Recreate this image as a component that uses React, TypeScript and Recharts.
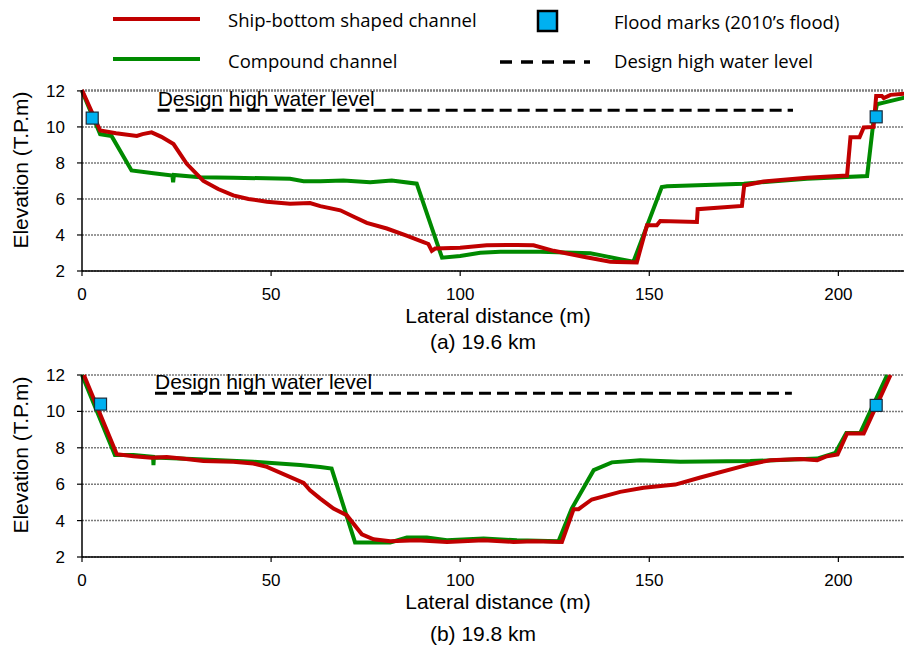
import React from 'react';
import { ComposedChart, Line, Scatter, XAxis, YAxis, CartesianGrid } from 'recharts';

type P = { x: number; y: number };
const pts = (a: number[][]): P[] => a.map(([x, y]) => ({ x, y }));

const xTicks = [0, 50, 100, 150, 200];
const yTicks = [2, 4, 6, 8, 10, 12];

// (a) 19.6 km
const shipBottomA = pts([
  [0, 12.05], [4.8, 9.8], [9, 9.65], [14.5, 9.5], [16, 9.6], [18.4, 9.7], [21, 9.45], [24.2, 9.05],
  [27.7, 7.95], [32.1, 7.0], [36, 6.55], [40, 6.2], [44, 6.0], [48.9, 5.85], [55, 5.74], [60.3, 5.77],
  [63, 5.6], [68.3, 5.37], [72, 5.0], [75.3, 4.67], [80.6, 4.36], [86, 3.95], [90.3, 3.6], [91.6, 3.5],
  [92.5, 3.12], [93.4, 3.25], [100, 3.29], [107, 3.43], [112.3, 3.45], [115, 3.45], [119.4, 3.43],
  [124.7, 3.12], [132.6, 2.79], [139.7, 2.51], [141.5, 2.5], [146.7, 2.48], [149.4, 4.54], [152, 4.54],
  [152.9, 4.78], [162.6, 4.72], [162.8, 5.43], [174.5, 5.61], [175.1, 6.75], [180.2, 6.97], [191.7, 7.18],
  [202.3, 7.3], [203.2, 9.42], [205.6, 9.42], [206.7, 9.97], [209.3, 10.0], [210, 11.72], [211.5, 11.72],
  [212, 11.6], [213.8, 11.78], [217.5, 11.85], [220, 11.87],
]);
const compoundA = pts([
  [0, 12], [4.8, 9.6], [7.8, 9.5], [13.1, 7.58], [18.9, 7.43], [23.9, 7.3], [24.1, 6.93], [24.3, 7.33],
  [31.2, 7.21], [40, 7.18], [55, 7.12], [58.6, 6.99], [63, 6.99], [69.1, 7.02], [76.2, 6.93], [81.9, 7.03],
  [88.5, 6.85], [95.2, 2.74], [100, 2.83], [105.3, 3.01], [110.6, 3.07], [121.2, 3.07], [134.4, 2.98],
  [137, 2.88], [142.3, 2.65], [145.8, 2.51], [153.3, 6.66], [154.7, 6.7], [175, 6.85], [191.7, 7.12],
  [207.6, 7.27], [209.3, 10.34], [210.2, 11.26], [212, 11.35], [217.5, 11.63], [220, 11.68],
]);
const floodA = pts([[2.7, 10.49], [210, 10.56]]);
const designA = pts([[20, 10.93], [188, 10.93]]);

// (b) 19.8 km
const shipBottomB = pts([
  [0.5, 12], [9.2, 7.65], [13.6, 7.54], [18.4, 7.45], [22.4, 7.5], [27, 7.4], [32.1, 7.27], [40, 7.23],
  [45.3, 7.14], [48.9, 6.95], [58.6, 6.07], [60.3, 5.67], [63, 5.21], [66.5, 4.66], [70, 4.3], [74, 3.25],
  [77.1, 2.97], [81.5, 2.86], [88.5, 2.92], [96.5, 2.83], [106.2, 2.92], [114.1, 2.83], [119.4, 2.86],
  [126.9, 2.83], [130, 4.63], [131.3, 4.63], [134.8, 5.16], [142.3, 5.58], [148.5, 5.8], [156.9, 5.98],
  [163.5, 6.37], [176.7, 7.1], [182, 7.32], [190, 7.38], [194.4, 7.32], [197, 7.54], [199.8, 7.63],
  [202.3, 8.79], [206.7, 8.79], [213.8, 12],
]);
const compoundB = pts([
  [0, 12], [8.7, 7.6], [13.6, 7.6], [18.8, 7.5], [18.9, 7.05], [19.0, 7.47], [32.1, 7.36], [45.3, 7.23],
  [57.7, 7.05], [63, 6.95], [66, 6.86], [72.2, 2.8], [81.5, 2.8], [85.9, 3.07], [91.2, 3.07], [96.5, 2.92],
  [106.2, 3.01], [115, 2.92], [126, 2.86], [129.5, 4.66], [135.3, 6.77], [140.1, 7.2], [147.6, 7.32],
  [158.2, 7.23], [176.7, 7.27], [194.4, 7.41], [199.2, 7.72], [202.1, 8.82], [205.8, 8.82], [212.9, 12],
]);
const floodB = pts([[4.9, 10.4], [210, 10.33]]);
const designB = pts([[19.3, 11.0], [187.7, 11.0]]);

const FONT = '"Liberation Sans", Arial, sans-serif';
const LEGEND_FONT = '"Open Sans", "Noto Sans", sans-serif';
const RED = '#C00000';
const GREEN = '#008A00';
const BLUE = '#00B0F0';

const FloodSquare = (props: any) => {
  const { cx, cy } = props;
  if (cx == null || cy == null) return <g />;
  return <rect x={cx - 6} y={cy - 6} width={12} height={12} fill={BLUE} stroke="#1a2a3a" strokeWidth={1.2} />;
};

const DesignText = (props: any) => {
  const { cx, cy } = props;
  if (cx == null || cy == null) return <g />;
  return (
    <text x={cx} y={cy - 4} fontSize={21} fontFamily={FONT} fill="#000">
      Design high water level
    </text>
  );
};

type PanelProps = {
  ship: P[];
  compound: P[];
  flood: P[];
  design: P[];
  caption: string;
  height: number;
  marginTop: number;
  axisH: number;
  captionDy: number;
};

function Panel({ ship, compound, flood, design, caption, height, marginTop, axisH, captionDy }: PanelProps) {
  const axisY = height - axisH;
  const xLabel = () => (
    <g>
      <text x={498} y={axisY + 52} textAnchor="middle" fontSize={21} fontFamily={FONT} fill="#000">
        Lateral distance (m)
      </text>
      <text x={483} y={axisY + captionDy} textAnchor="middle" fontSize={21} fontFamily={FONT} fill="#000">
        {caption}
      </text>
    </g>
  );
  const yLabel = () => {
    const cx = 28;
    const cy = marginTop + 80;
    return (
      <text x={cx} y={cy} transform={`rotate(-90, ${cx}, ${cy})`} textAnchor="middle" fontSize={21} fontFamily={FONT} fill="#000">
        Elevation (T.P.m)
      </text>
    );
  };
  const designLabel = design.slice(0, 1);
  return (
    <ComposedChart width={904} height={height} margin={{ top: marginTop, right: -10, bottom: 0, left: 0 }}>
      <CartesianGrid vertical={false} stroke="#7a7a7a" strokeDasharray="2 1" strokeWidth={1.5} />
      <XAxis
        type="number"
        dataKey="x"
        domain={[0, 220]}
        ticks={xTicks}
        height={axisH}
        tickSize={5}
        tickMargin={12}
        interval={0}
        tick={{ fontSize: 17, fill: '#000', fontFamily: FONT }}
        axisLine={{ stroke: '#000', strokeWidth: 1.5 }}
        tickLine={{ stroke: '#000', strokeWidth: 1.2 }}
        label={xLabel}
      />
      <YAxis
        type="number"
        dataKey="y"
        domain={[2, 12]}
        ticks={yTicks}
        width={82}
        tickSize={5}
        tickMargin={12}
        interval={0}
        tick={{ fontSize: 17, fill: '#000', fontFamily: FONT }}
        axisLine={{ stroke: '#000', strokeWidth: 1.5 }}
        tickLine={{ stroke: '#000', strokeWidth: 1.2 }}
        label={yLabel}
      />
      <Line data={compound} dataKey="y" type="linear" stroke={GREEN} strokeWidth={4} dot={false} isAnimationActive={false} />
      <Line data={ship} dataKey="y" type="linear" stroke={RED} strokeWidth={4} dot={false} isAnimationActive={false} />
      <Line data={design} dataKey="y" type="linear" stroke="#000" strokeWidth={3} strokeDasharray="12 6" dot={false} isAnimationActive={false} />
      <Scatter data={flood} dataKey="y" shape={FloodSquare} isAnimationActive={false} />
      <Scatter data={designLabel} dataKey="y" shape={DesignText} isAnimationActive={false} />
    </ComposedChart>
  );
}

function LegendBox() {
  return (
    <svg width={904} height={80} style={{ position: 'absolute', left: 0, top: 0 }}>
      <line x1={113} x2={200} y1={19} y2={19} stroke={RED} strokeWidth={4} />
      <text x={228} y={27} fontSize={18.5} fontFamily={LEGEND_FONT} fill="#000">Ship-bottom shaped channel</text>
      <line x1={113} x2={200} y1={59} y2={59} stroke={GREEN} strokeWidth={4} />
      <text x={228} y={68} fontSize={18.5} fontFamily={LEGEND_FONT} fill="#000">Compound channel</text>
      <rect x={538} y={11} width={19} height={20} fill={BLUE} stroke="#000" strokeWidth={2.5} />
      <text x={614} y={29} fontSize={18.5} fontFamily={LEGEND_FONT} fill="#000">Flood marks (2010’s flood)</text>
      <line x1={500} x2={590} y1={62} y2={62} stroke="#000" strokeWidth={3.5} strokeDasharray="12 9" />
      <text x={614} y={68} fontSize={18.5} fontFamily={LEGEND_FONT} fill="#000">Design high water level</text>
    </svg>
  );
}

export default function App() {
  return (
    <div style={{ position: 'absolute', left: 0, top: 0, width: 904, height: 647, overflow: 'hidden', background: '#fff' }}>
      <div style={{ position: 'absolute', left: 0, top: 0 }}>
        <Panel ship={shipBottomA} compound={compoundA} flood={floodA} design={designA} caption="(a) 19.6 km"
          height={360} marginTop={90} axisH={89} captionDy={78} />
      </div>
      <div style={{ position: 'absolute', left: 0, top: 360 }}>
        <Panel ship={shipBottomB} compound={compoundB} flood={floodB} design={designB} caption="(b) 19.8 km"
          height={287} marginTop={15} axisH={90} captionDy={84} />
      </div>
      <LegendBox />
    </div>
  );
}
